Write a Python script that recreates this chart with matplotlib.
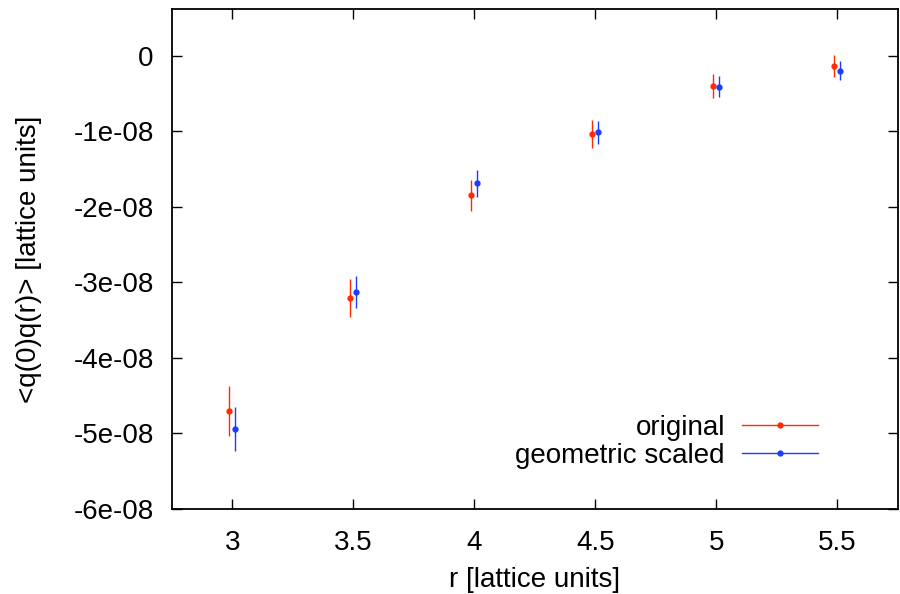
import numpy as np
import matplotlib.pyplot as plt
from matplotlib.lines import Line2D
from matplotlib.ticker import MultipleLocator, FuncFormatter

plt.rcParams['font.family'] = ['Liberation Sans', 'DejaVu Sans']

# data (units of 1e-8)
r_orig = [2.986, 3.486, 3.986, 4.486, 4.986, 5.486]
q_orig = [-4.70, -3.21, -1.85, -1.04, -0.405, -0.141]
err_orig = [0.33, 0.25, 0.21, 0.185, 0.16, 0.145]

r_geo = [3.012, 3.512, 4.012, 4.512, 5.012, 5.512]
q_geo = [-4.94, -3.13, -1.69, -1.013, -0.41, -0.198]
err_geo = [0.29, 0.21, 0.175, 0.155, 0.14, 0.13]

red = "#ff2a00"
blue = "#1a3cff"
fs = 20

fig = plt.figure(figsize=(9, 5.94), dpi=100)
ax = fig.add_axes([0.1908, 0.1431, 0.8070, 0.8420])

ax.errorbar(r_orig, np.array(q_orig) * 1e-8, yerr=np.array(err_orig) * 1e-8,
            fmt="o", color=red, ms=3.5, elinewidth=1, capsize=0)
ax.errorbar(r_geo, np.array(q_geo) * 1e-8, yerr=np.array(err_geo) * 1e-8,
            fmt="o", color=blue, ms=3.5, elinewidth=1, capsize=0)

ax.set_xlim(2.75, 5.75)
ax.set_ylim(-6e-8, 0.62e-8)
ax.xaxis.set_major_locator(MultipleLocator(0.5))
ax.yaxis.set_major_locator(MultipleLocator(1e-8))
ax.xaxis.set_major_formatter(FuncFormatter(lambda v, p: "%g" % v))
ax.yaxis.set_major_formatter(FuncFormatter(lambda v, p: "0" if abs(v) < 1e-12 else "%.0e" % v))
ax.tick_params(direction="in", top=True, right=True, length=7, width=1,
               labelsize=fs)
ax.tick_params(axis="x", pad=15)
ax.tick_params(axis="y", pad=13)
for s in ax.spines.values():
    s.set_linewidth(1.3)

ax.set_xlabel("r [lattice units]", fontsize=fs, labelpad=8)
ax.set_ylabel("<q(0)q(r)> [lattice units]", fontsize=fs)
ax.yaxis.set_label_coords(-0.179, 0.5)

handles = [Line2D([], [], color=red, marker="o", ms=3.5, lw=1),
           Line2D([], [], color=blue, marker="o", ms=3.5, lw=1)]
ax.legend(handles, ["original", "geometric scaled"], frameon=False,
          markerfirst=False, fontsize=fs, handlelength=2.75, handletextpad=0.6,
          labelspacing=0.07, borderpad=0, loc="lower right",
          bbox_to_anchor=(0.909, 0.053))

fig.savefig("out.png", dpi=100)
